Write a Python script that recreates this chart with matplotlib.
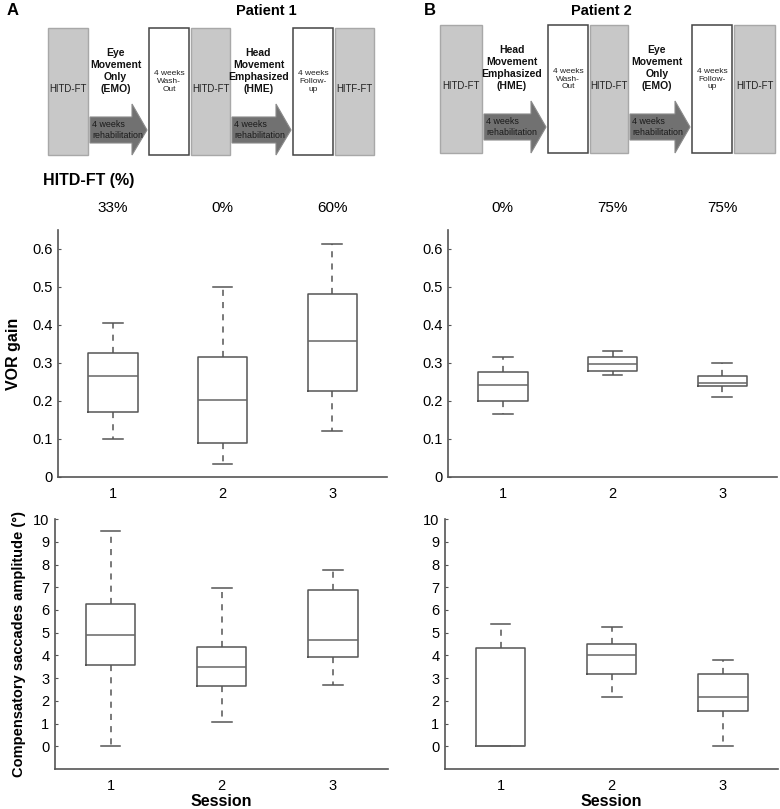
import matplotlib.pyplot as plt
from matplotlib.patches import Rectangle, Polygon

plt.rcParams['font.family'] = ['Liberation Sans', 'DejaVu Sans']

sessions = [1, 2, 3]

# VOR gain box stats per session: whisker low, Q1, median, Q3, whisker high
vor_p1 = [[0.101, 0.171, 0.267, 0.327, 0.405],
          [0.035, 0.090, 0.202, 0.316, 0.501],
          [0.120, 0.227, 0.358, 0.481, 0.612]]
vor_p2 = [[0.167, 0.200, 0.243, 0.277, 0.316],
          [0.268, 0.280, 0.297, 0.316, 0.332],
          [0.211, 0.239, 0.248, 0.267, 0.299]]

# Compensatory saccade amplitude (deg)
sac_p1 = [[0.0, 3.59, 4.90, 6.25, 9.49],
          [1.06, 2.64, 3.48, 4.37, 6.95],
          [2.68, 3.94, 4.66, 6.88, 7.74]]
sac_p2 = [[0.0, 0.0, 0.0, 4.34, 5.37],
          [2.18, 3.17, 4.02, 4.50, 5.26],
          [0.0, 1.57, 2.18, 3.18, 3.81]]

hitd_p1 = ['33%', '0%', '60%']
hitd_p2 = ['0%', '75%', '75%']

vor_ticks = [0, 0.1, 0.2, 0.3, 0.4, 0.5, 0.6]
vor_ticklabels = ['0', '0.1', '0.2', '0.3', '0.4', '0.5', '0.6']
sac_ticks = list(range(0, 11))

# timeline diagram stages: (kind, text, label above arrow)
stages_p1 = [('test', 'HITD-FT', None),
             ('arrow', '4 weeks\nrehabilitation', 'Eye\nMovement\nOnly\n(EMO)'),
             ('pause', '4 weeks\nWash-\nOut', None),
             ('test', 'HITD-FT', None),
             ('arrow', '4 weeks\nrehabilitation', 'Head\nMovement\nEmphasized\n(HME)'),
             ('pause', '4 weeks\nFollow-\nup', None),
             ('test', 'HITF-FT', None)]
stages_p2 = [('test', 'HITD-FT', None),
             ('arrow', '4 weeks\nrehabilitation', 'Head\nMovement\nEmphasized\n(HME)'),
             ('pause', '4 weeks\nWash-\nOut', None),
             ('test', 'HITD-FT', None),
             ('arrow', '4 weeks\nrehabilitation', 'Eye\nMovement\nOnly\n(EMO)'),
             ('pause', '4 weeks\nFollow-\nup', None),
             ('test', 'HITD-FT', None)]

W, H = 780, 809
fig = plt.figure(figsize=(W / 100, H / 100), dpi=100)

# overlay in pixel coordinates for the diagrams
ov = fig.add_axes([0, 0, 1, 1])
ov.set_xlim(0, W)
ov.set_ylim(H, 0)
ov.axis('off')


def draw_timeline(x0, top, bottom, stages, widths):
    x = x0
    for (kind, txt, above), w in zip(stages, widths):
        if kind == 'test':
            ov.add_patch(Rectangle((x, top), w, bottom - top, facecolor='#c8c8c8',
                                   edgecolor='#a8a8a8', lw=1))
            ov.text(x + w / 2, (top + bottom) / 2 - 3, txt, ha='center', va='center',
                    fontsize=6.9, color='#222222')
        elif kind == 'pause':
            ov.add_patch(Rectangle((x, top), w, bottom - top, facecolor='white',
                                   edgecolor='#444444', lw=1.1))
            ov.text(x + w / 2, (top + bottom) / 2 - 10, txt, ha='center', va='center',
                    fontsize=6.0, color='#222222', linespacing=1.15)
        else:
            head = 15
            b0, b1 = top + 89, top + 115
            pts = [(x, b0), (x + w - head, b0), (x + w - head, top + 76),
                   (x + w, top + 102), (x + w - head, bottom), (x + w - head, b1), (x, b1)]
            ov.add_patch(Polygon(pts, closed=True, facecolor='#717171',
                                 edgecolor='#8a8a8a', lw=0.8))
            ov.text(x + 2, (b0 + b1) / 2, txt, ha='left', va='center',
                    fontsize=6.4, color='#1a1a1a', linespacing=1.3)
            ov.text(x + (w - 6) / 2, top + 43, above, ha='center', va='center',
                    fontsize=7.5, fontweight='bold', color='#111111', linespacing=1.25)
        x += w + 2


draw_timeline(48, 28, 155, stages_p1, [40, 57, 40, 39, 59, 40, 39])
draw_timeline(440, 25, 153, stages_p2, [42, 62, 40, 38, 60, 40, 41])

ov.text(13, 10, 'A', ha='center', va='center', fontsize=12, fontweight='bold')
ov.text(430, 10, 'B', ha='center', va='center', fontsize=12, fontweight='bold')
ov.text(266, 11, 'Patient 1', ha='center', va='center', fontsize=10.5, fontweight='bold')
ov.text(601, 11, 'Patient 2', ha='center', va='center', fontsize=10.5, fontweight='bold')
ov.text(43, 180, 'HITD-FT (%)', ha='left', va='center', fontsize=11.5, fontweight='bold')

box_col = '#555555'


def box_panel(rect, data, ylim, ticks, ticklabels):
    ax = fig.add_axes(rect)
    stats = []
    for s, (lo, q1, med, q3, hi) in zip(sessions, data):
        stats.append({'whislo': lo, 'q1': q1, 'med': med, 'q3': q3, 'whishi': hi,
                      'fliers': [], 'label': str(s)})
    ax.bxp(stats, positions=sessions, widths=0.45, capwidths=0.18, showfliers=False,
           boxprops=dict(color=box_col, lw=1.1),
           medianprops=dict(color='#666666', lw=1.1),
           whiskerprops=dict(color=box_col, lw=1.1, linestyle=(0, (4, 4))),
           capprops=dict(color=box_col, lw=1.1))
    ax.set_xlim(0.5, 3.5)
    ax.set_ylim(*ylim)
    ax.set_yticks(ticks)
    ax.set_yticklabels(ticklabels)
    ax.set_xticks(sessions)
    ax.set_xticklabels([str(s) for s in sessions])
    for side in ['top', 'right']:
        ax.spines[side].set_visible(False)
    for side in ['left', 'bottom']:
        ax.spines[side].set_color('#555555')
        ax.spines[side].set_linewidth(1.2)
    ax.tick_params(axis='y', direction='in', length=2, width=0.8, color='#555555',
                   labelsize=10.5, pad=4)
    ax.tick_params(axis='x', length=0, labelsize=10.5, pad=7)
    return ax


ax1 = box_panel([0.0744, 0.4104, 0.4218, 0.3053], vor_p1, (0, 0.65), vor_ticks, vor_ticklabels)
ax2 = box_panel([0.5744, 0.4104, 0.4218, 0.3053], vor_p2, (0, 0.65), vor_ticks, vor_ticklabels)
ax3 = box_panel([0.0705, 0.0494, 0.427, 0.309], sac_p1, (-1, 10), sac_ticks,
                [str(t) for t in sac_ticks])
ax4 = box_panel([0.5705, 0.0494, 0.427, 0.309], sac_p2, (-1, 10), sac_ticks,
                [str(t) for t in sac_ticks])

for ax, labels in [(ax1, hitd_p1), (ax2, hitd_p2)]:
    for s, lab in zip(sessions, labels):
        ax.annotate(lab, xy=(s, 1), xycoords=('data', 'axes fraction'),
                    xytext=(0, 16), textcoords='offset points',
                    ha='center', va='center', fontsize=11)

ax1.set_ylabel('VOR gain', fontsize=11.5, fontweight='bold', labelpad=8)
ax3.set_ylabel('Compensatory saccades amplitude (°)', fontsize=10.5, fontweight='bold',
               labelpad=5)
for ax in [ax3, ax4]:
    ax.set_xlabel('Session', fontsize=11.5, fontweight='bold', labelpad=1)

fig.savefig('out.png', dpi=100)
